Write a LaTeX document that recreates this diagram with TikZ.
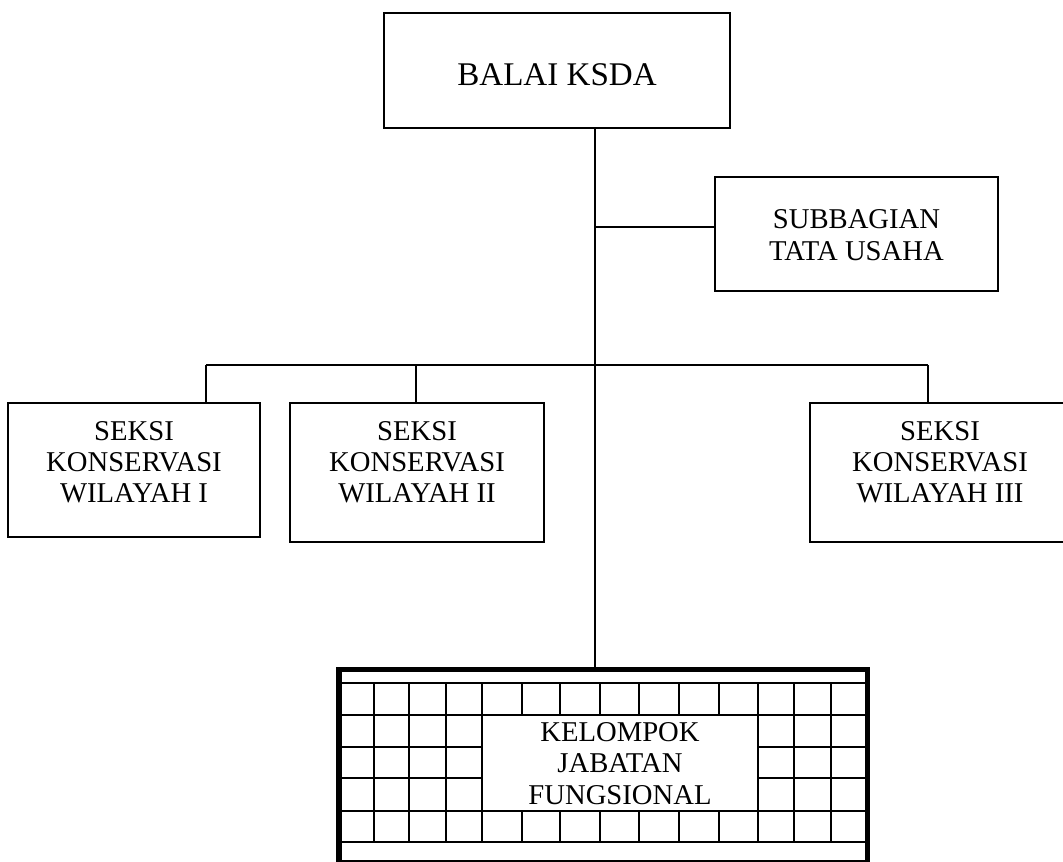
\documentclass[tikz,border=0pt]{standalone}
\usepackage{fontspec}
\setmainfont{Liberation Serif}
\usetikzlibrary{positioning}

\begin{document}
\begin{tikzpicture}[x=0.75pt, y=-0.75pt,
	unit/.style={draw, line width=1.2pt, inner sep=0pt, outer sep=0pt},
	caption/.style={align=center, inner sep=0pt, font=\fontsize{21.5}{23.4}\selectfont},
	link/.style={line width=1.2pt},
	cell/.style={line width=1.6pt},
	frame/.style={draw, line width=4.1pt, inner sep=0pt, outer sep=0pt}]
	\useasboundingbox (0,0) rectangle (1063,861);

	% Top: head of office
	\node[unit, minimum width=259.5pt, minimum height=86.25pt] (balai) at (557,70.5) {};
	\node[caption, font=\fontsize{24.8}{28}\selectfont, below=37.5pt of balai.north] (balaitxt) {BALAI KSDA};

	% Staff unit
	\node[unit, minimum width=212.25pt, minimum height=85.5pt] (subbag) at (856.5,234) {};
	\node[caption, below=24.5pt of subbag.north] (subbagtxt) {SUBBAGIAN\\TATA USAHA};

	% Sections
	\node[unit, minimum width=189pt, minimum height=100.5pt] (seksiA) at (134,470) {};
	\node[caption, below=13.7pt of seksiA.north] (seksiAtxt) {SEKSI\\KONSERVASI\\WILAYAH I};
	\node[unit, minimum width=190.5pt, minimum height=104.25pt] (seksiB) at (417,472.5) {};
	\node[caption, below=13.7pt of seksiB.north] (seksiBtxt) {SEKSI\\KONSERVASI\\WILAYAH II};
	\node[unit, minimum width=195pt, minimum height=104.25pt] (seksiC) at (940,472.5) {};
	\node[caption, below=13.7pt of seksiC.north] (seksiCtxt) {SEKSI\\KONSERVASI\\WILAYAH III};

	% Functional group: grid frame
	\node[frame, minimum width=396.4pt, minimum height=145.1pt] (jafung) at (603.25,766.25) {};
	\draw[cell] (342,683) -- (865,683) (342,715) -- (865,715) (342,811) -- (865,811) (342,842) -- (865,842);
	\foreach \y in {747,778}
		\draw[cell] (342,\y) -- (482,\y) (758,\y) -- (865,\y);
	\foreach \x in {374,409,446,482,758,794,831}
		\draw[cell] (\x,683) -- (\x,842);
	\foreach \x in {522,560,600,639,679,719}
		\draw[cell] (\x,683) -- (\x,715) (\x,811) -- (\x,842);
	\node[caption, anchor=north] (jafungtxt) at (620,722.5) {KELOMPOK\\JABATAN\\FUNGSIONAL};

	% Connectors
	\coordinate (trunk) at (595,365);
	\coordinate (staff) at (595,227);
	\coordinate (busA) at (206,365);
	\coordinate (busB) at (416,365);
	\coordinate (busC) at (928,365);
	\draw[link] (balai.south -| trunk) -- (trunk |- jafung.north);
	\draw[link] (staff) -- (staff -| subbag.west);
	\draw[link] (busA) -- (busC);
	\draw[link] (busA) -- (busA |- seksiA.north);
	\draw[link] (busB) -- (busB |- seksiB.north);
	\draw[link] (busC) -- (busC |- seksiC.north);
\end{tikzpicture}
\end{document}
